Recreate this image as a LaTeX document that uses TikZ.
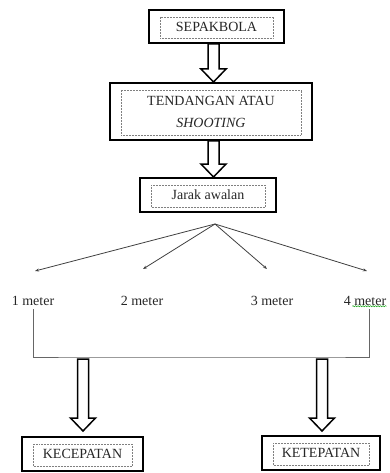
\documentclass[tikz,border=0pt]{standalone}
\usepackage{fontspec}
\setmainfont{Liberation Serif}
\usetikzlibrary{calc}
\usetikzlibrary{arrows.meta}
\usetikzlibrary{decorations.pathmorphing}
\newcommand{\heightbox}{34pt}
\newcommand{\shaftwidth}{5.5pt}
\newcommand{\headwidth}{12.5pt}
\newcommand{\headlength}{13pt}
% hollow block arrow: from start point straight down to the tip
\newcommand{\blockarrow}[2]{%
    \draw[blockarrow] let \p1=#1, \p2=#2 in
        (\x1-\shaftwidth,\y1) -- (\x1+\shaftwidth,\y1)
        -- (\x1+\shaftwidth,\y2+\headlength) -- (\x1+\headwidth,\y2+\headlength)
        -- (\x1,\y2)
        -- (\x1-\headwidth,\y2+\headlength) -- (\x1-\shaftwidth,\y2+\headlength) -- cycle;}
\tikzset{
    common/.style={font=\fontsize{14}{17}\selectfont, text=black!85},
    box/.style={common, draw, rectangle, line width=2pt, inner sep=0pt, minimum height=\heightbox,
        path picture={
            \draw[gray, densely dotted, line width=0.5pt]
                ([shift={(11pt,-7pt)}]path picture bounding box.north west)
                rectangle ([shift={(-11pt,5pt)}]path picture bounding box.south east);
        }},
    meter/.style={common},
    blockarrow/.style={draw, line width=1.5pt, fill=white, line join=miter},
    fanarrow/.style={-{Stealth[length=4pt, width=3pt]}, black!75, line width=0.8pt},
    bracket/.style={black!60, line width=0.8pt},
    spellmark/.style={green!60!black, line width=0.4pt, decorate,
        decoration={snake, amplitude=0.6pt, segment length=2.5pt}}
}
\begin{document}
\begin{tikzpicture}[x=1pt, y=-1pt]
    \useasboundingbox (0,0) rectangle (389,473);

    % boxes
    \node[box, minimum width=135pt, minimum height=33pt] (sepak) at (216.5,26.5) {SEPAKBOLA};
    \node[box, minimum width=202pt, minimum height=57pt, align=center] (tend) at (211,111.5)
        {TENDANGAN ATAU\\[5pt]\textit{SHOOTING}};
    \node[box, minimum width=136pt] (jarak) at (208,195) {Jarak awalan};
    \node[box, minimum width=121pt] (kecep) at (82.5,454) {KECEPATAN};
    \node[box, minimum width=118pt] (ketep) at (321,453) {KETEPATAN};

    % distances
    \node[meter] (m1) at (33,301) {1 meter};
    \node[meter] (m2) at (142,301) {2 meter};
    \node[meter] (m3) at (272,301) {3 meter};
    \node[meter] (m4) at (365,301) {4 meter};
    \draw[spellmark] ($(m4.south west)+(12pt,3pt)$) -- ($(m4.south east)+(-3pt,3pt)$);

    % fan of arrows below Jarak awalan
    \coordinate (fan) at (215,224);
    \coordinate (e1) at (35,271);
    \coordinate (e2) at (143,269);
    \coordinate (e3) at (267,269);
    \coordinate (e4) at (367,271);
    \foreach \e in {e1,e2,e3,e4}
        \draw[fanarrow] (fan) -- (\e);

    % bracket joining 1 meter and 4 meter
    \coordinate (b1) at (83,357);
    \coordinate (b2) at (322,357);
    \draw[bracket] (m1.south) |- (b1) -- (b2) -| ([xshift=4pt]m4.south);

    % hollow arrows
    \coordinate (axis) at (213.5,0);
    \blockarrow{(sepak.south -| axis)}{(tend.north -| axis)}
    \blockarrow{(tend.south -| axis)}{(jarak.north -| axis)}
    \blockarrow{([yshift=-2pt]b1)}{([yshift=5pt]kecep.north)}
    \blockarrow{([yshift=-2pt]b2)}{([yshift=4pt]ketep.north)}
\end{tikzpicture}
\end{document}
